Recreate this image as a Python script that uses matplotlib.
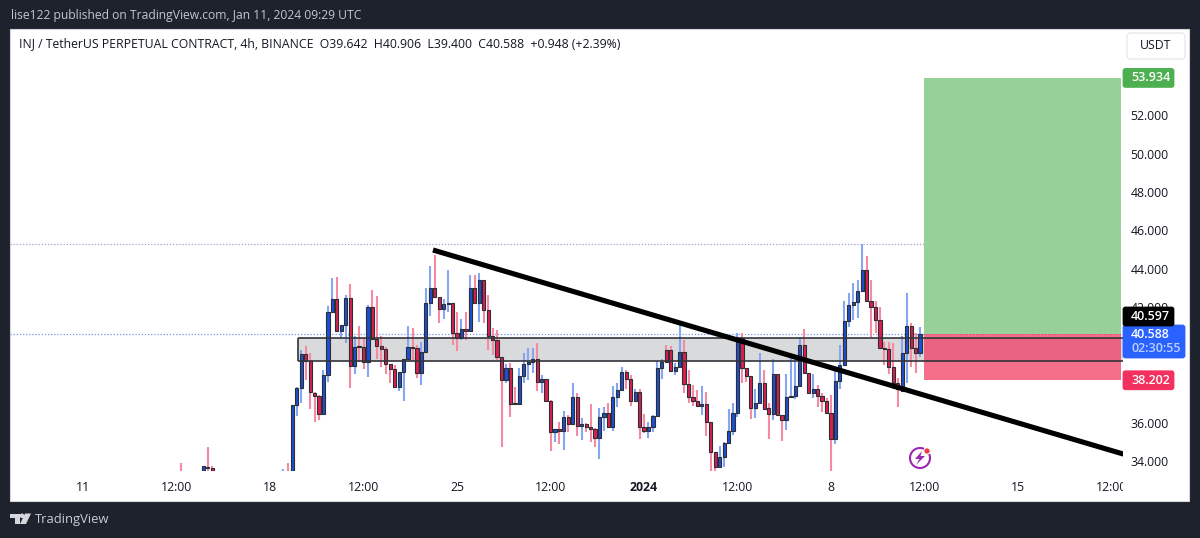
import matplotlib
matplotlib.use("Agg")
import matplotlib.pyplot as plt
import numpy as np
from matplotlib.patches import Rectangle, FancyBboxPatch, Polygon, Circle
from matplotlib.transforms import Bbox

plt.rcParams['font.family'] = ['Open Sans', 'DejaVu Sans']

# candles before the big move, mostly below the visible pane
early_bars = [-25, -20, -19, -18, -2, -1]
early_open = [33.3, 33.2, 33.69, 33.62, 32.9, 33.3]
early_high = [33.9, 33.75, 34.73, 33.72, 33.58, 33.9]
early_low = [32.9, 33.1, 33.3, 33.0, 32.8, 32.9]
early_close = [33.0, 33.75, 33.64, 33.1, 33.2, 33.0]

opens = [33.0, 36.91, 37.78, 39.55, 39.22, 37.56, 37.38, 36.43, 38.47, 41.73,
         42.41, 40.78, 41.08, 42.5, 38.94, 39.97, 39.91, 39.17, 42.03, 40.35,
         39.98, 39.81, 39.05, 38.77, 37.87, 38.61, 39.29, 39.95, 39.88, 38.56,
         39.69, 42.2, 42.98, 42.52, 41.91, 42.17, 42.2, 40.64, 40.38, 40.85,
         40.78, 42.98, 42.2, 43.42, 41.86, 40.5, 40.3, 39.39, 38.21, 38.82,
         37.0, 36.97, 38.44, 39.03, 39.17, 39.31, 38.09, 38.28, 37.12, 35.49,
         35.65, 35.58, 36.31, 35.93, 37.35, 35.82, 35.93, 35.79, 35.65, 35.18,
         36.27, 36.48, 35.79, 37.31, 37.69, 38.65, 38.28, 37.12, 37.61, 35.79,
         35.56, 35.79, 36.36, 38.82, 39.78, 39.78, 38.7, 38.91, 39.65, 38.01,
         37.31, 37.12, 36.86, 36.95, 36.05, 34.49, 33.67, 34.19, 34.92, 35.56,
         36.51, 40.38, 38.82, 38.44, 36.74, 37.0, 38.04, 36.74, 36.43, 38.51,
         36.39, 36.13, 37.35, 37.4, 37.92, 40.04, 38.6, 37.56, 37.73, 37.4,
         37.12, 36.48, 35.13, 38.18, 38.99, 41.27, 42.12, 42.27, 42.85, 43.94,
         42.34, 42.03, 41.34, 39.86, 39.81, 38.91, 38.08, 37.66, 39.64, 41.04,
         39.86, 39.64]
highs = [33.0, 37.87, 39.78, 39.98, 39.64, 37.6, 37.43, 38.73, 42.06, 43.5,
         43.56, 41.08, 42.64, 43.21, 40.5, 41.04, 40.38, 42.12, 42.9, 42.58,
         40.5, 39.91, 39.05, 38.98, 38.61, 39.29, 41.02, 40.9, 40.04, 40.21,
         42.98, 44.15, 44.7, 42.52, 42.41, 43.94, 42.2, 41.77, 41.37, 41.77,
         43.68, 43.68, 43.76, 43.42, 42.64, 40.9, 40.82, 39.39, 39.05, 39.08,
         37.87, 38.82, 39.6, 39.86, 39.86, 40.12, 38.47, 38.28, 37.17, 35.65,
         36.05, 36.62, 36.39, 38.08, 37.52, 36.22, 36.0, 36.97, 35.7, 36.74,
         36.83, 37.03, 37.9, 38.04, 38.87, 38.73, 38.47, 37.73, 37.73, 36.45,
         36.05, 36.39, 39.22, 39.29, 40.04, 39.98, 39.12, 41.16, 40.3, 38.73,
         37.95, 37.69, 37.9, 37.61, 36.05, 34.49, 34.78, 35.0, 36.71, 37.0,
         40.68, 40.68, 38.82, 38.44, 37.73, 39.64, 38.73, 37.0, 39.29, 38.51,
         36.39, 38.51, 39.43, 39.34, 40.47, 40.85, 38.6, 38.53, 37.95, 37.52,
         37.26, 37.43, 38.82, 40.04, 42.34, 42.72, 43.24, 43.42, 45.29, 44.67,
         43.42, 42.34, 41.99, 40.2, 40.21, 40.12, 38.3, 40.5, 42.72, 41.16,
         40.64, 40.95]
lows = [32.8, 36.34, 37.03, 38.21, 36.71, 36.05, 36.13, 36.43, 38.13, 41.73,
        40.78, 40.38, 40.12, 37.78, 38.53, 39.17, 38.77, 38.35, 40.35, 39.3,
        38.87, 38.53, 38.04, 37.78, 37.66, 37.14, 39.25, 39.25, 38.3, 37.95,
        39.69, 41.54, 42.52, 41.16, 41.37, 41.77, 40.04, 39.74, 40.3, 40.3,
        40.78, 42.2, 41.25, 41.16, 39.78, 39.51, 39.25, 34.75, 38.08, 36.27,
        36.97, 36.97, 38.08, 38.2, 38.56, 37.66, 37.52, 37.1, 34.54, 35.0,
        34.88, 34.57, 35.5, 35.93, 35.3, 35.09, 35.5, 35.0, 34.71, 34.09,
        35.58, 35.7, 35.58, 36.83, 37.66, 37.73, 36.86, 37.09, 35.14, 35.47,
        35.18, 35.53, 36.31, 38.25, 39.15, 38.7, 38.47, 38.82, 37.52, 37.03,
        36.86, 36.83, 36.39, 35.3, 33.45, 33.45, 33.62, 33.67, 34.92, 35.35,
        36.27, 38.08, 38.13, 36.17, 36.22, 37.0, 36.69, 35.13, 36.13, 36.39,
        35.06, 35.61, 37.35, 37.21, 37.92, 38.6, 37.56, 37.26, 36.83, 36.57,
        36.45, 33.45, 34.88, 37.73, 38.99, 40.99, 41.34, 41.42, 42.81, 42.34,
        40.43, 40.64, 39.86, 39.0, 38.53, 37.73, 36.83, 37.66, 38.04, 38.91,
        38.56, 39.43]
closes = [36.91, 37.78, 39.55, 39.22, 37.57, 37.38, 36.43, 38.47, 41.73, 42.41,
          40.78, 41.08, 42.5, 38.94, 39.95, 39.95, 39.17, 42.03, 40.35, 39.98,
          39.81, 39.05, 38.77, 37.87, 38.61, 39.29, 39.95, 39.88, 38.56, 39.69,
          42.2, 42.98, 42.52, 41.91, 42.17, 42.2, 40.64, 40.38, 40.85, 40.78,
          42.98, 42.2, 43.42, 41.86, 40.5, 40.3, 39.39, 38.21, 38.82, 36.97,
          36.97, 38.44, 39.03, 39.17, 39.31, 38.13, 38.28, 37.12, 35.49, 35.65,
          35.58, 36.27, 35.93, 37.35, 35.82, 35.93, 35.79, 35.65, 35.18, 36.27,
          36.48, 35.79, 37.31, 37.69, 38.65, 38.28, 37.12, 37.61, 35.79, 35.56,
          35.79, 36.36, 38.82, 39.15, 39.15, 38.7, 38.91, 39.65, 38.01, 37.31,
          37.12, 36.86, 36.95, 36.05, 34.49, 33.67, 34.19, 34.92, 35.56, 36.51,
          40.38, 38.82, 38.44, 36.74, 37.0, 38.04, 36.69, 36.43, 38.51, 36.39,
          36.13, 37.35, 37.4, 37.92, 40.04, 38.6, 37.56, 37.73, 37.4, 37.12,
          36.48, 35.13, 38.18, 38.99, 41.27, 42.12, 42.27, 42.85, 43.94, 42.34,
          42.03, 41.34, 39.86, 39.83, 38.91, 38.04, 37.73, 39.64, 41.04, 39.86,
          39.64, 40.59]

# 38 and 40 sit behind the price tags in the reference, so they get no label
price_ticks = [34, 36, 42, 44, 46, 48, 50, 52]
time_ticks = [-47, -26, -5, 16, 37, 58, 79, 100, 121, 142, 163, 184]
time_labels = ["11", "12:00", "18", "12:00", "25", "12:00", "2024", "12:00", "8", "12:00", "15", "12:00"]

zone_top, zone_bottom = 40.4, 39.2
target, entry, stop = 53.934, 40.6, 38.202
swing_high = 45.29
trend_x, trend_y = [31.6, 186.7], [44.98, 34.36]

DARK = "#1e222d"
fig = plt.figure(figsize=(12, 5.38), dpi=100, facecolor=DARK)

def px_axes(z):
    a = fig.add_axes([0, 0, 1, 1], zorder=z)
    a.set_xlim(0, 1200)
    a.set_ylim(538, 0)
    a.axis("off")
    a.patch.set_alpha(0)
    return a

back = px_axes(0)
back.add_patch(Rectangle((10, 28.5), 1179, 472, fc="white", ec="#d5d6da", lw=0.8))

ax = fig.add_axes([10 / 1200, 1 - 471 / 538, 1113 / 1200, 442 / 538], zorder=1)
ax.patch.set_alpha(0)
ax.set_xlim((10 - 292.3) / 4.452, (1123 - 292.3) / 4.452)
ax.set_ylim(33.48, 56.48)
for s in ax.spines.values():
    s.set_visible(False)

bars = np.array(early_bars + list(range(len(opens))))
o = np.array(early_open + opens)
h = np.array(early_high + highs)
l = np.array(early_low + lows)
c = np.array(early_close + closes)
up = c >= o

ax.axhline(swing_high, color="#9aa6c4", lw=0.9, ls=(0, (1, 1.5)), zorder=1)
ax.axhline(entry, color="#6f97ea", lw=0.9, ls=(0, (1, 1.5)), zorder=1)

x0 = 1.2
ax.add_patch(Rectangle((x0, zone_bottom), 190, zone_top - zone_bottom, fc="#d9dadb", ec="none", zorder=1))

ax.vlines(bars[up], l[up], h[up], color="#86a6f2", lw=1.5, zorder=2)
ax.vlines(bars[~up], l[~up], h[~up], color="#f58ba3", lw=1.5, zorder=2)
ax.bar(bars[up], (c - o)[up], bottom=o[up], width=0.72, color="#1c4fd6", edgecolor="#2b2e33", lw=0.8, zorder=3)
ax.bar(bars[~up], (o - c)[~up], bottom=c[~up], width=0.72, color="#dc1e4e", edgecolor="#2b2e33", lw=0.8, zorder=3)

# long position box
ax.add_patch(Rectangle((141.9, entry), 44.3, target - entry, fc="#97d098", ec="none", zorder=4))
ax.add_patch(Rectangle((141.9, stop), 44.3, entry - stop, fc="#f2375f", alpha=0.72, ec="none", zorder=4))

ax.hlines([zone_top, zone_bottom], x0, 190, color="#33343a", lw=1.2, zorder=5)
ax.vlines(x0, zone_bottom, zone_top, color="#33343a", lw=1.2, zorder=5)
ax.plot(trend_x, trend_y, color="black", lw=3.7, solid_capstyle="butt", zorder=6)

ax.yaxis.tick_right()
ax.set_yticks(price_ticks)
ax.set_yticklabels(["%.3f" % p for p in price_ticks])
ax.tick_params(axis="y", length=0, pad=5.5, labelsize=8.8, labelcolor="#131722")
ax.set_xticks(time_ticks)
ax.set_xticklabels(time_labels)
ax.tick_params(axis="x", length=0, pad=7.3, labelsize=8.8, labelcolor="#131722")
for lab in ax.get_xticklabels():
    if lab.get_text() == "2024":
        lab.set_fontweight("bold")
last = ax.get_xticklabels()[-1]
last.set_clip_on(True)
last.set_clip_box(Bbox([[0, 0], [1123, 538]]))

over = px_axes(2)

def price_px(p):
    return over.transData.inverted().transform(ax.transData.transform((0, p)))[1]

def tag(x, yc, w, ht, color, lines, colors):
    over.add_patch(FancyBboxPatch((x + 1, yc - ht / 2 + 1), w - 2, ht - 2, boxstyle="round,pad=0,rounding_size=1.5",
                                  fc=color, ec=color, lw=2))
    for i, t in enumerate(lines):
        y = yc + (i - (len(lines) - 1) / 2) * 15
        over.text(x + 8, y, t, color=colors[i], fontsize=9, weight="semibold", ha="left", va="center")

tag(1123, price_px(target), 51, 19, "#4caf50", ["53.934"], ["white"])
tag(1123, price_px(stop), 51, 19, "#f23160", ["38.202"], ["white"])
tag(1123, 341.5, 62, 33, "#2962ff", ["40.588", "02:30:55"], ["white", "#bcd0ff"])
tag(1123, 316.5, 51, 19, "#000000", ["40.597"], ["white"])

# header and pane texts
over.text(11, 15.5, "lise122 published on TradingView.com, Jan 11, 2024 09:29 UTC", color="#c3c6ce", fontsize=8.78, va="center")
over.text(19, 44, "INJ / TetherUS PERPETUAL CONTRACT, 4h, BINANCE  O39.642  H40.906  L39.400  C40.588  +0.948 (+2.39%)",
          color="#131722", fontsize=8.81, va="center")

over.add_patch(FancyBboxPatch((1127, 33), 58, 26, boxstyle="round,pad=0,rounding_size=4", fc="white", ec="#e8e9ec", lw=1))
over.text(1156, 45.5, "USDT", color="#131722", fontsize=8.8, ha="center", va="center")

# lightning badge
over.add_patch(Circle((920, 458), 10, fc="none", ec="#9c27b0", lw=1.5))
over.add_patch(Polygon([(922, 451), (915, 459), (919.5, 459), (916, 465), (925, 456), (920.5, 456)], fc="#9c27b0", ec="none"))
over.add_patch(Circle((927, 451), 3.2, fc="#f23645", ec="white", lw=0.8))

# logo
logo = "#d5d7dd"
over.add_patch(Polygon([(10, 513.5), (19.5, 513.5), (19.5, 524), (14.5, 524), (14.5, 518), (10, 518)], fc=logo, ec="none"))
over.add_patch(Circle((22, 515.8), 2.3, fc=logo, ec="none"))
over.add_patch(Polygon([(25, 513.5), (31, 513.5), (26, 524), (20, 524)], fc=logo, ec="none"))
over.text(35, 519.5, "TradingView", color="#c8cbd2", fontsize=9.4, va="center")

fig.savefig("out.png", dpi=100, facecolor=DARK)
